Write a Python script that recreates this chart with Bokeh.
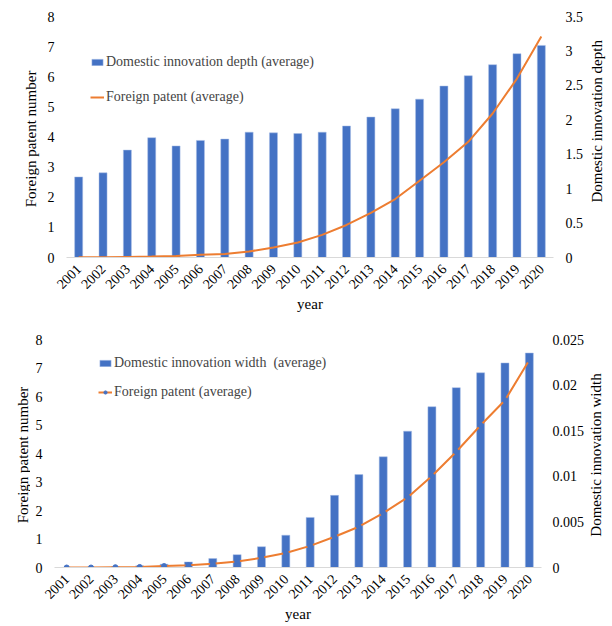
from bokeh.plotting import figure
from bokeh.models import Range1d, LinearAxis, FixedTicker, CustomJSTickFormatter, Legend, LegendItem, ColumnDataSource
from bokeh.layouts import column, row
from bokeh.embed import file_html
from bokeh.resources import INLINE
from bokeh.core.properties import value
import math

years = [str(y) for y in range(2001, 2021)]

depth = [1.17, 1.23, 1.56, 1.74, 1.62, 1.70, 1.72, 1.82, 1.81, 1.80,
         1.82, 1.91, 2.04, 2.16, 2.30, 2.49, 2.64, 2.80, 2.96, 3.08]
foreign_top = [0.01, 0.01, 0.02, 0.03, 0.05, 0.09, 0.12, 0.20, 0.33, 0.50,
               0.75, 1.08, 1.48, 1.94, 2.55, 3.16, 3.84, 4.78, 5.94, 7.34]

width_vals = [0.00003, 0.00005, 0.0001, 0.00018, 0.00036, 0.00061, 0.00098, 0.00141, 0.00228, 0.00354,
              0.00549, 0.00791, 0.01019, 0.01214, 0.01495, 0.01763, 0.01972, 0.02135, 0.02243, 0.02352]
foreign_bot = [0.0, 0.0, 0.01, 0.02, 0.05, 0.08, 0.13, 0.21, 0.34, 0.51,
               0.76, 1.08, 1.43, 1.91, 2.46, 3.21, 4.06, 4.99, 5.87, 7.28]

left_ticks = [0, 1, 2, 3, 4, 5, 6, 7, 8]
right_ticks_top = [0, 0.5, 1, 1.5, 2, 2.5, 3, 3.5]
right_ticks_bot = [0, 0.005, 0.01, 0.015, 0.02, 0.025]

FONT = "Liberation Serif"
BAR = "#4472C4"
LINE = "#ED7D31"
FS = "14px"

fmt = CustomJSTickFormatter(code="return String(Math.round(tick*100000)/100000);")


def style_axis(ax):
    ax.axis_line_color = None
    ax.major_tick_line_color = None
    ax.minor_tick_line_color = None
    ax.major_label_text_font = FONT
    ax.major_label_text_font_size = FS
    ax.major_label_text_color = "#000000"
    ax.axis_label_text_font = FONT
    ax.axis_label_text_font_size = "15px"
    ax.axis_label_text_font_style = "normal"
    ax.axis_label_text_color = "#000000"


def side_title(text, w, h, cx, cy):
    s = figure(width=w, height=h, x_range=Range1d(0, w), y_range=Range1d(0, h),
               x_axis_type=None, y_axis_type=None, output_backend="svg", toolbar_location=None,
               min_border=0, min_border_left=0, min_border_right=0, min_border_top=0, min_border_bottom=0)
    s.outline_line_color = None
    s.grid.grid_line_color = None
    s.text(x=[cx], y=[cy], text=[text], angle=math.pi / 2, text_align="center",
           text_baseline="middle", text_font=value(FONT), text_font_size="15px", text_color="#000000")
    return s


def make(values, foreign, right_max, right_ticks, bar_label, line_label,
         width, height, bl, br, bt, bb, leg_loc, leg_spacing, markers, rstand):
    p = figure(x_range=years, y_range=Range1d(0, 8), width=width, height=height,
               output_backend="svg", toolbar_location=None,
               min_border_left=bl, min_border_right=br, min_border_top=bt, min_border_bottom=bb)
    p.outline_line_color = None
    p.xgrid.grid_line_color = None
    p.ygrid.grid_line_color = None
    p.extra_y_ranges = {"right": Range1d(0, right_max)}

    src = ColumnDataSource(dict(year=years, val=values, fp=foreign))
    bars = p.vbar(x="year", top="val", width=0.33, source=src, y_range_name="right",
                  fill_color=BAR, line_color="#A9BEE6", line_width=0.5)
    ln = p.line(x="year", y="fp", source=src, line_color=LINE, line_width=2)
    items = [LegendItem(label=bar_label, renderers=[bars])]
    rends = [ln]
    if markers:
        mk = p.scatter(x="year", y="fp", source=src, size=5, fill_color=BAR, line_color=BAR)
        rends.append(mk)
    items.append(LegendItem(label=line_label, renderers=rends))

    ax = p.yaxis[0]
    ax.ticker = FixedTicker(ticks=left_ticks)
    style_axis(ax)
    ax.major_tick_out = 0
    ax.major_label_standoff = 12

    rax = LinearAxis(y_range_name="right", ticker=FixedTicker(ticks=right_ticks), formatter=fmt)
    style_axis(rax)
    rax.major_tick_out = 0
    rax.major_label_standoff = rstand
    p.add_layout(rax, "right")

    xa = p.xaxis[0]
    style_axis(xa)
    xa.axis_line_color = "#D9D9D9"
    xa.axis_line_width = 1
    xa.major_label_orientation = math.pi / 4
    xa.axis_label = "year"
    xa.axis_label_standoff = 0
    xa.major_label_standoff = 3

    leg = Legend(items=items, location=leg_loc, border_line_color=None, background_fill_alpha=0,
                 padding=0, margin=0, spacing=leg_spacing, glyph_width=14, glyph_height=8,
                 label_standoff=2, label_text_font=FONT, label_text_font_size=FS, label_height=20)
    p.add_layout(leg, "center")
    return p


top = make(depth, foreign_top, 3.5, right_ticks_top,
           "Domestic innovation depth (average)", "Foreign patent (average)",
           547, 315, 26, 34, 16, 57, (24, 150), 15, False, 12)
top_row = row(side_title("Foreign patent number", 40, 315, 30, 155), top,
              side_title("Domestic innovation depth", 20, 315, 9, 178), spacing=0)

bot = make(width_vals, foreign_bot, 0.025, right_ticks_bot,
           "Domestic innovation width  (average)", "Foreign patent (average)",
           557, 310, 24, 45, 24, 57, (44, 165), 9, True, 11)
bot_row = row(side_title("Foreign patent number", 30, 310, 22, 153), bot,
              side_title("Domestic innovation width", 18, 310, 8, 153), spacing=0)

layout = column(top_row, bot_row, spacing=0)
open("out.html", "w").write(file_html(layout, INLINE))
